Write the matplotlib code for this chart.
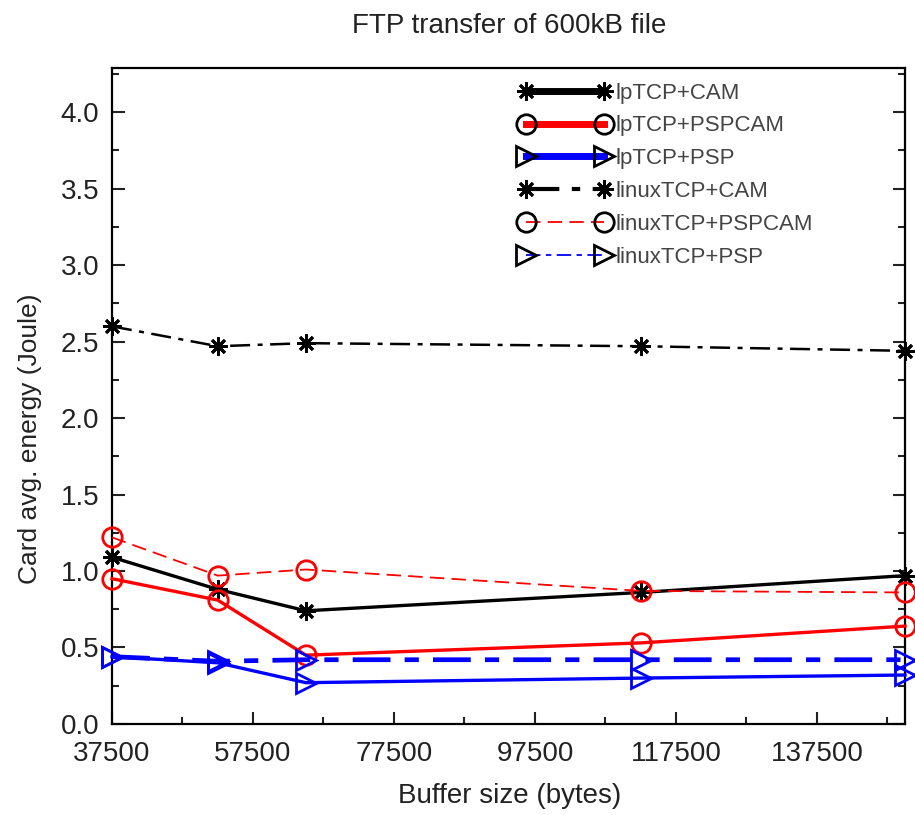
"""FTP transfer of 600kB file: card energy vs. buffer size."""
import matplotlib

matplotlib.use("Agg")
import matplotlib.pyplot as plt  # noqa: E402
from matplotlib.ticker import MultipleLocator, FormatStrFormatter  # noqa: E402

plt.rcParams["font.family"] = ["Liberation Sans", "DejaVu Sans"]

# Data.
buffer_sizes = [37500, 52500, 65000, 112500, 150000]
lptcp_cam = [1.09, 0.88, 0.74, 0.86, 0.97]
lptcp_pspcam = [0.95, 0.81, 0.45, 0.53, 0.64]
lptcp_psp = [0.44, 0.40, 0.27, 0.30, 0.32]
linux_cam = [2.60, 2.47, 2.49, 2.47, 2.44]
linux_pspcam = [1.22, 0.97, 1.01, 0.87, 0.86]
linux_psp = [0.44, 0.41, 0.42, 0.42, 0.42]

labels = ["lpTCP+CAM", "lpTCP+PSPCAM", "lpTCP+PSP",
          "linuxTCP+CAM", "linuxTCP+PSPCAM", "linuxTCP+PSP"]

STAR = (8, 2, 0)  # eight-spoke asterisk
TEXT = "#222"

fig = plt.figure(figsize=(9.15, 8.15), dpi=100)
ax = fig.add_axes([0.1224, 0.1117, 0.8667, 0.805])

series = [
    (lptcp_cam, "black", "-", 2.4, STAR),
    (lptcp_pspcam, "red", "-", 2.4, "o"),
    (lptcp_psp, "blue", "-", 2.4, ">"),
    (linux_cam, "black", (0, (8, 3, 2, 3)), 1.8, STAR),
    (linux_pspcam, "red", (0, (8, 4)), 1.3, "o"),
    (linux_psp, "blue", (0, (8, 3, 3, 3)), 3.4, ">"),
]
for (vals, col, ls, lw, mk), lab in zip(series, labels):
    ax.plot(buffer_sizes, vals, color=col, linestyle=ls, linewidth=lw,
            marker=mk, markersize=14 if mk != STAR else 13,
            markerfacecolor="none", markeredgecolor=col,
            markeredgewidth=2.0, label=lab, clip_on=False, zorder=3)

ax.set_xlim(37500, 150000)
ax.set_ylim(0, 4.29)
ax.set_xticks(range(37500, 150001, 20000))
ax.set_xticks(range(47500, 150001, 20000), minor=True)
ax.yaxis.set_major_locator(MultipleLocator(0.5))
ax.yaxis.set_minor_locator(MultipleLocator(0.25))
ax.yaxis.set_major_formatter(FormatStrFormatter("%.1f"))

ax.tick_params(which="both", direction="in", right=True, top=False,
               width=1.5, labelsize=20, colors=TEXT)
ax.tick_params(which="major", length=9)
ax.tick_params(which="minor", length=5)
ax.tick_params(axis="x", which="major", pad=12)
ax.tick_params(axis="y", which="major", pad=9)
for sp in ax.spines.values():
    sp.set_linewidth(1.6)

ax.set_xlabel("Buffer size (bytes)", fontsize=20, color=TEXT)
ax.xaxis.set_label_coords(0.502, -0.09)
ax.set_ylabel("Card avg. energy (Joule)", fontsize=19, color=TEXT)
ax.yaxis.set_label_coords(-0.088, 0.434)
fig.text(0.557, 0.968, "FTP transfer of 600kB file", ha="center",
         va="center", fontsize=20, color=TEXT)

leg = ax.legend(loc="upper left", bbox_to_anchor=(0.489, 1.008),
                frameon=False, numpoints=2, handlelength=4.1,
                handletextpad=0.2, labelspacing=0.53, fontsize=16)
for h, lw in zip(leg.get_lines(), [5, 5, 5, 3, 1.3, 1.3]):
    h.set_markeredgecolor("black")
    h.set_linewidth(lw)
for t in leg.get_texts():
    t.set_color("#444")

fig.savefig("out.png", dpi=100, facecolor="white")
